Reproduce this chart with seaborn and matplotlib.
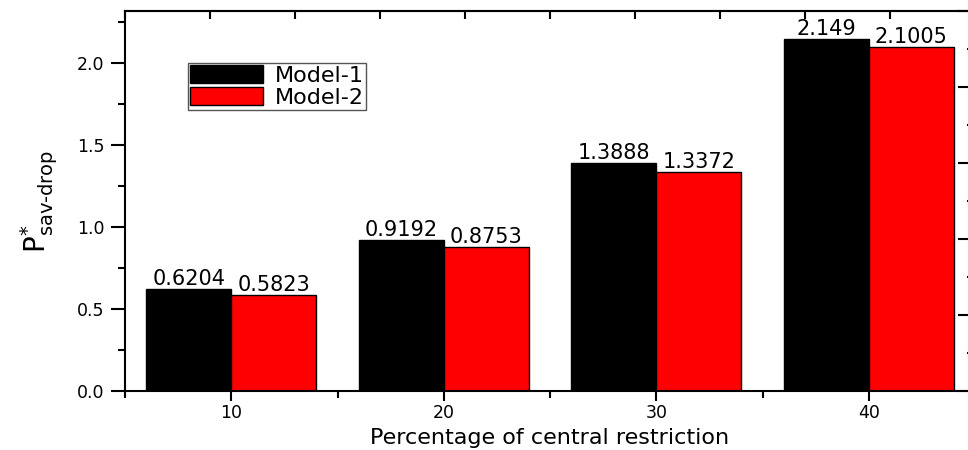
import numpy as np
import pandas as pd
import matplotlib
matplotlib.use("Agg")
import matplotlib.pyplot as plt
from matplotlib.ticker import MultipleLocator, FixedLocator, FormatStrFormatter
import seaborn as sns

# Data
restriction_pct = [10, 20, 30, 40]
model_1 = [0.6204, 0.9192, 1.3888, 2.149]
model_2 = [0.5823, 0.8753, 1.3372, 2.1005]
series_names = ["Model-1", "Model-2"]
series_colors = ["#000000", "#ff0000"]

df = pd.DataFrame({
    "pct": restriction_pct * 2,
    "value": model_1 + model_2,
    "model": [series_names[0]] * len(model_1) + [series_names[1]] * len(model_2),
})

sns.set_theme(style="white")
plt.rcParams["font.family"] = ["DejaVu Sans"]
plt.rcParams["mathtext.fontset"] = "dejavusans"
plt.rcParams["text.color"] = "black"
plt.rcParams["axes.labelcolor"] = "black"
plt.rcParams["xtick.color"] = "black"
plt.rcParams["ytick.color"] = "black"

fig = plt.figure(figsize=(9.68, 4.5), dpi=100)
ax = fig.add_axes([125 / 968, 59 / 450, 850 / 968, 380 / 450])

sns.barplot(
    data=df, x="pct", y="value", hue="model", hue_order=series_names,
    palette=series_colors, native_scale=True, width=0.8, saturation=1,
    edgecolor="black", linewidth=1, ax=ax, errorbar=None,
)

# value labels above each bar
for cont in ax.containers:
    ax.bar_label(cont, fmt="{:g}", padding=0, fontsize=15, color="black")

ymax = 2.317
ax.set_xlim(5, 45)
ax.set_ylim(0, ymax)

ax.set_xticks(restriction_pct)
ax.set_xticklabels([str(v) for v in restriction_pct])
ax.xaxis.set_minor_locator(MultipleLocator(5))
ax.yaxis.set_major_locator(MultipleLocator(0.5))
ax.yaxis.set_minor_locator(MultipleLocator(0.25))
ax.yaxis.set_major_formatter(FormatStrFormatter("%.1f"))

ax.tick_params(axis="both", which="major", direction="out", width=1.5,
               labelsize=12.5, labelcolor="black", top=False, right=False)
ax.tick_params(axis="y", which="major", length=10, pad=5)
ax.tick_params(axis="x", which="major", length=7, pad=2)
ax.tick_params(axis="both", which="minor", direction="out", length=5,
               width=1.5, top=False, right=False)
ax.tick_params(axis="y", which="both", left=True)
ax.tick_params(axis="x", which="both", bottom=True)

for side in ["left", "bottom", "top", "right"]:
    ax.spines[side].set_visible(True)
    ax.spines[side].set_color("black")
    ax.spines[side].set_linewidth(1.5)

# mirrored inner ticks on top and right frame
top = ax.secondary_xaxis("top")
top.xaxis.set_major_locator(FixedLocator(np.arange(5, 46, 4)))
top.tick_params(direction="in", length=6, width=1.5, labeltop=False, colors="black")
top.spines["top"].set_linewidth(1.5)

right = ax.secondary_yaxis("right")
right.yaxis.set_major_locator(FixedLocator(np.linspace(0, ymax, 6)))
right.yaxis.set_minor_locator(FixedLocator(np.linspace(0, ymax, 11)))
right.tick_params(which="major", direction="in", length=12, width=1.5,
                  labelright=False, colors="black")
right.tick_params(which="minor", direction="in", length=6, width=1.5)

ax.set_xlabel("Percentage of central restriction", fontsize=16, labelpad=5)
ax.set_ylabel(r"$\mathrm{P}^{*}_{\mathrm{sav\text{-}drop}}$", fontsize=20, labelpad=12)

leg = ax.get_legend()
handles = leg.legend_handles
labels = [t.get_text() for t in leg.texts]
leg.remove()
ax.legend(
    handles, labels, loc="upper left", bbox_to_anchor=(0.074, 0.863),
    borderaxespad=0, fontsize=16, frameon=True, fancybox=False,
    edgecolor="#555555", framealpha=1, handlelength=3.3, handleheight=0.85,
    handletextpad=0.5, labelspacing=0.05, borderpad=0.1, labelcolor="black",
)

fig.savefig("out.png", dpi=100)
